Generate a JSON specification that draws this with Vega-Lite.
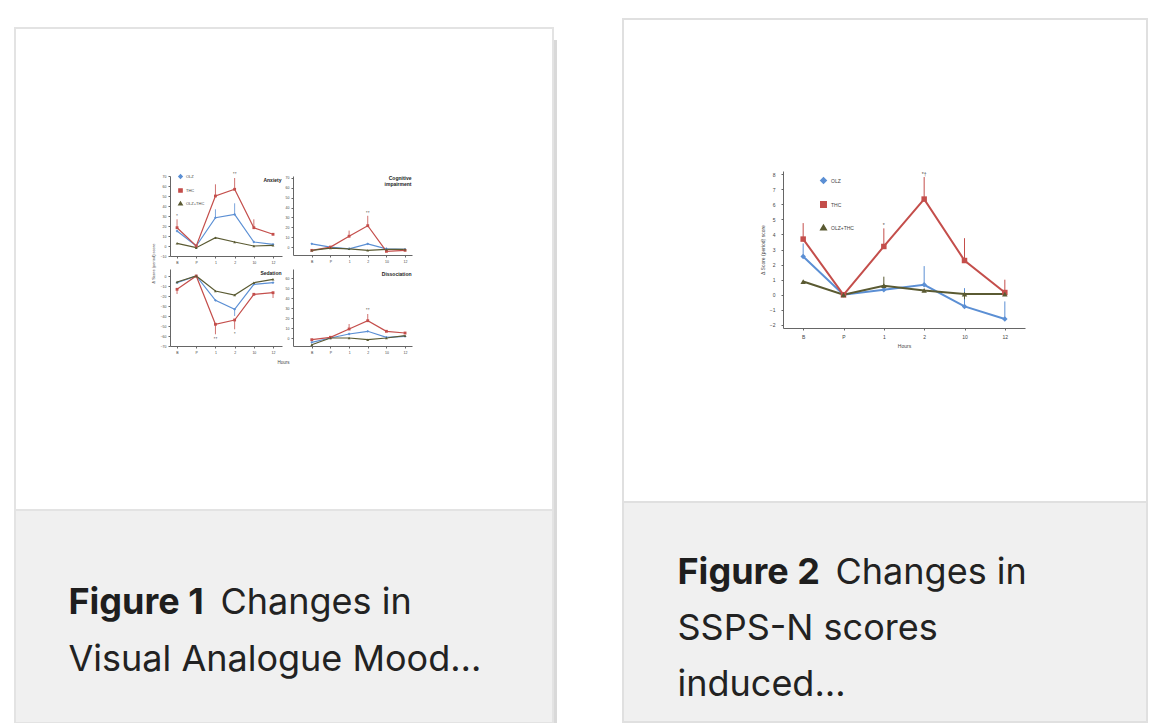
{
  "$schema": "https://vega.github.io/schema/vega-lite/v6.json",
  "background": "white",
  "padding": {"left": 14, "top": 18, "right": 0, "bottom": 0},
  "spacing": 0,
  "resolve": {"scale": {"color": "independent", "shape": "independent"}, "legend": {"color": "independent", "shape": "independent"}},
  "config": {
    "view": {"stroke": null},
    "font": "Inter",
    "axis": {"labelFont": "Liberation Sans", "labelFontSize": 5, "labelColor": "#444", "domainColor": "#666", "tickColor": "#666", "tickSize": 2, "grid": false, "titleFont": "Liberation Sans", "titleFontSize": 5, "titleFontWeight": "normal", "titleColor": "#444", "labelPadding": 2, "labelAngle": 0},
    "legend": {"labelFont": "Liberation Sans", "labelColor": "#444"}
  },
  "datasets": {
    "fig1": [
      {"panel": "Anxiety", "hour": "B", "group": "OLZ", "value": 15},
      {"panel": "Anxiety", "hour": "P", "group": "OLZ", "value": 0},
      {"panel": "Anxiety", "hour": "1", "group": "OLZ", "value": 28.3, "err": 36.7},
      {"panel": "Anxiety", "hour": "2", "group": "OLZ", "value": 31.7, "err": 42.7},
      {"panel": "Anxiety", "hour": "10", "group": "OLZ", "value": 4},
      {"panel": "Anxiety", "hour": "12", "group": "OLZ", "value": 1.7},
      {"panel": "Anxiety", "hour": "B", "group": "THC", "value": 18.3, "err": 26.7, "note": "*", "noteY": 30},
      {"panel": "Anxiety", "hour": "P", "group": "THC", "value": 0},
      {"panel": "Anxiety", "hour": "1", "group": "THC", "value": 50, "err": 61.7},
      {"panel": "Anxiety", "hour": "2", "group": "THC", "value": 56.7, "err": 68, "note": "*†", "noteY": 72},
      {"panel": "Anxiety", "hour": "10", "group": "THC", "value": 18.3, "err": 26.7},
      {"panel": "Anxiety", "hour": "12", "group": "THC", "value": 11.7},
      {"panel": "Anxiety", "hour": "B", "group": "OLZ+THC", "value": 2.7},
      {"panel": "Anxiety", "hour": "P", "group": "OLZ+THC", "value": -1.7},
      {"panel": "Anxiety", "hour": "1", "group": "OLZ+THC", "value": 8.3},
      {"panel": "Anxiety", "hour": "2", "group": "OLZ+THC", "value": 4},
      {"panel": "Anxiety", "hour": "10", "group": "OLZ+THC", "value": 0},
      {"panel": "Anxiety", "hour": "12", "group": "OLZ+THC", "value": 0.7},

      {"panel": "Cognitive", "hour": "B", "group": "OLZ", "value": 3.3},
      {"panel": "Cognitive", "hour": "P", "group": "OLZ", "value": 0},
      {"panel": "Cognitive", "hour": "1", "group": "OLZ", "value": -1.7},
      {"panel": "Cognitive", "hour": "2", "group": "OLZ", "value": 3.3},
      {"panel": "Cognitive", "hour": "10", "group": "OLZ", "value": -1.7},
      {"panel": "Cognitive", "hour": "12", "group": "OLZ", "value": -2.3},
      {"panel": "Cognitive", "hour": "B", "group": "THC", "value": -3.3},
      {"panel": "Cognitive", "hour": "P", "group": "THC", "value": 0},
      {"panel": "Cognitive", "hour": "1", "group": "THC", "value": 11, "err": 16.7},
      {"panel": "Cognitive", "hour": "2", "group": "THC", "value": 21.7, "err": 31.7, "note": "*†", "noteY": 35},
      {"panel": "Cognitive", "hour": "10", "group": "THC", "value": -4.3},
      {"panel": "Cognitive", "hour": "12", "group": "THC", "value": -3.3},
      {"panel": "Cognitive", "hour": "B", "group": "OLZ+THC", "value": -3.3},
      {"panel": "Cognitive", "hour": "P", "group": "OLZ+THC", "value": -1},
      {"panel": "Cognitive", "hour": "1", "group": "OLZ+THC", "value": -1.7},
      {"panel": "Cognitive", "hour": "2", "group": "OLZ+THC", "value": -3.3},
      {"panel": "Cognitive", "hour": "10", "group": "OLZ+THC", "value": -2.3},
      {"panel": "Cognitive", "hour": "12", "group": "OLZ+THC", "value": -2.3},

      {"panel": "Sedation", "hour": "B", "group": "OLZ", "value": -6.7},
      {"panel": "Sedation", "hour": "P", "group": "OLZ", "value": 0},
      {"panel": "Sedation", "hour": "1", "group": "OLZ", "value": -24.3},
      {"panel": "Sedation", "hour": "2", "group": "OLZ", "value": -33.3, "err": -40},
      {"panel": "Sedation", "hour": "10", "group": "OLZ", "value": -8.3},
      {"panel": "Sedation", "hour": "12", "group": "OLZ", "value": -6.7},
      {"panel": "Sedation", "hour": "B", "group": "THC", "value": -13.3, "err": -18},
      {"panel": "Sedation", "hour": "P", "group": "THC", "value": 0},
      {"panel": "Sedation", "hour": "1", "group": "THC", "value": -48.3, "err": -58.3, "note": "*†", "noteY": -63},
      {"panel": "Sedation", "hour": "2", "group": "THC", "value": -44, "err": -53.3, "note": "*", "noteY": -58},
      {"panel": "Sedation", "hour": "10", "group": "THC", "value": -18.3},
      {"panel": "Sedation", "hour": "12", "group": "THC", "value": -16.7, "err": -22},
      {"panel": "Sedation", "hour": "B", "group": "OLZ+THC", "value": -6},
      {"panel": "Sedation", "hour": "P", "group": "OLZ+THC", "value": 0},
      {"panel": "Sedation", "hour": "1", "group": "OLZ+THC", "value": -15},
      {"panel": "Sedation", "hour": "2", "group": "OLZ+THC", "value": -19},
      {"panel": "Sedation", "hour": "10", "group": "OLZ+THC", "value": -6.7},
      {"panel": "Sedation", "hour": "12", "group": "OLZ+THC", "value": -3.3},

      {"panel": "Dissociation", "hour": "B", "group": "OLZ", "value": -4.3},
      {"panel": "Dissociation", "hour": "P", "group": "OLZ", "value": 0},
      {"panel": "Dissociation", "hour": "1", "group": "OLZ", "value": 4},
      {"panel": "Dissociation", "hour": "2", "group": "OLZ", "value": 6.7},
      {"panel": "Dissociation", "hour": "10", "group": "OLZ", "value": 0.7},
      {"panel": "Dissociation", "hour": "12", "group": "OLZ", "value": 1.7},
      {"panel": "Dissociation", "hour": "B", "group": "THC", "value": -1.7},
      {"panel": "Dissociation", "hour": "P", "group": "THC", "value": 0.7},
      {"panel": "Dissociation", "hour": "1", "group": "THC", "value": 9, "err": 14},
      {"panel": "Dissociation", "hour": "2", "group": "THC", "value": 17.3, "err": 24, "note": "*†", "noteY": 28},
      {"panel": "Dissociation", "hour": "10", "group": "THC", "value": 6.7},
      {"panel": "Dissociation", "hour": "12", "group": "THC", "value": 5},
      {"panel": "Dissociation", "hour": "B", "group": "OLZ+THC", "value": -6.7},
      {"panel": "Dissociation", "hour": "P", "group": "OLZ+THC", "value": 0},
      {"panel": "Dissociation", "hour": "1", "group": "OLZ+THC", "value": 0},
      {"panel": "Dissociation", "hour": "2", "group": "OLZ+THC", "value": -1.7},
      {"panel": "Dissociation", "hour": "10", "group": "OLZ+THC", "value": 0},
      {"panel": "Dissociation", "hour": "12", "group": "OLZ+THC", "value": 2.3}
    ],
    "fig2": [
      {"hour": "B", "group": "OLZ", "value": 2.54, "err": 3.4},
      {"hour": "P", "group": "OLZ", "value": 0},
      {"hour": "1", "group": "OLZ", "value": 0.33},
      {"hour": "2", "group": "OLZ", "value": 0.66, "err": 1.9},
      {"hour": "10", "group": "OLZ", "value": -0.77, "err": 0.44},
      {"hour": "12", "group": "OLZ", "value": -1.6, "err": -0.44},
      {"hour": "B", "group": "THC", "value": 3.69, "err": 4.75},
      {"hour": "P", "group": "THC", "value": 0},
      {"hour": "1", "group": "THC", "value": 3.2, "err": 4.4, "note": "*", "noteY": 4.6},
      {"hour": "2", "group": "THC", "value": 6.34, "err": 7.8, "note": "*†", "noteY": 8.0},
      {"hour": "10", "group": "THC", "value": 2.27, "err": 3.75},
      {"hour": "12", "group": "THC", "value": 0.15, "err": 1.0},
      {"hour": "B", "group": "OLZ+THC", "value": 0.88},
      {"hour": "P", "group": "OLZ+THC", "value": 0},
      {"hour": "1", "group": "OLZ+THC", "value": 0.6, "err": 1.2},
      {"hour": "2", "group": "OLZ+THC", "value": 0.29},
      {"hour": "10", "group": "OLZ+THC", "value": 0.05, "err": -0.3},
      {"hour": "12", "group": "OLZ+THC", "value": 0.05}
    ],
    "cap1": [
      {"line": 1, "kind": "label", "text": "Figure 1"},
      {"line": 1, "kind": "rest", "text": "Changes in"},
      {"line": 2, "kind": "body", "text": "Visual Analogue Mood…"}
    ],
    "cap2": [
      {"line": 1, "kind": "label", "text": "Figure 2"},
      {"line": 1, "kind": "rest", "text": "Changes in"},
      {"line": 2, "kind": "body", "text": "SSPS-N scores"},
      {"line": 3, "kind": "body", "text": "induced…"}
    ]
  },
  "hconcat": [
    {
      "vconcat": [
        {"width": 538, "height": 9, "data": {"values": []}, "mark": "point"},
        {
          "width": 538, "height": 482,
          "view": {"fill": "white", "stroke": "#e3e3e3", "strokeWidth": 2},
          "data": {"name": "fig1"},
          "resolve": {"scale": {"x": "independent", "y": "independent"}},
          "layer": [
            {
              "transform": [{"filter": "datum.panel === 'Anxiety'"}],
              "encoding": {
                "x": {"field": "hour", "type": "ordinal", "scale": {"type": "point", "domain": ["B", "P", "1", "2", "10", "12"], "range": [155, 267], "padding": 0.417, "align": 0.44}, "axis": {"orient": "bottom", "offset": -254, "labelFontSize": 3.5, "title": "Anxiety", "titleFontSize": 5, "titleFontWeight": "bold", "titleColor": "#222", "titleAngle": 0, "titleAlign": "right", "titleBaseline": "top", "titleX": 266, "titleY": -79}},
                "y": {"field": "value", "type": "quantitative", "scale": {"domain": [-10, 70], "range": [228, 148], "nice": false, "zero": false}, "axis": {"orient": "left", "offset": -155, "labelFontSize": 3.5, "tickCount": 8, "title": "Δ Score (period) score", "titleFontSize": 4, "titleX": -15, "titleY": 235, "titleAngle": -90}}
              },
              "layer": [
                {"transform": [{"filter": "isValid(datum.err)"}], "mark": {"type": "rule", "strokeWidth": 0.8}, "encoding": {"y2": {"field": "err"}, "color": {"field": "group", "type": "nominal", "scale": {"domain": ["OLZ", "THC", "OLZ+THC"], "range": ["#5b8fd4", "#c44e4b", "#5a5a32"]}, "legend": {"orient": "none", "legendX": 163, "legendY": 155, "title": null, "labelFontSize": 4, "symbolSize": 10, "rowPadding": 3, "labelOffset": 3, "padding": 0}}}},
                {"mark": {"type": "line", "strokeWidth": 1.2}, "encoding": {"color": {"field": "group", "type": "nominal", "legend": {"orient": "none", "legendX": 163, "legendY": 155, "title": null, "labelFontSize": 4, "symbolSize": 10, "rowPadding": 3, "labelOffset": 3, "padding": 0}}}},
                {"mark": {"type": "point", "filled": true, "size": 8, "opacity": 1}, "encoding": {"color": {"field": "group", "type": "nominal", "legend": {"orient": "none", "legendX": 163, "legendY": 155, "title": null, "labelFontSize": 4, "symbolSize": 10, "rowPadding": 3, "labelOffset": 3, "padding": 0}}, "shape": {"field": "group", "type": "nominal", "scale": {"domain": ["OLZ", "THC", "OLZ+THC"], "range": ["diamond", "square", "triangle-up"]}, "legend": {"orient": "none", "legendX": 163, "legendY": 155, "title": null, "labelFontSize": 4, "symbolSize": 10, "rowPadding": 3, "labelOffset": 3, "padding": 0}}}},
                {"transform": [{"filter": "isValid(datum.note)"}], "mark": {"type": "text", "fontSize": 4, "color": "#444"}, "encoding": {"y": {"field": "noteY", "type": "quantitative"}, "text": {"field": "note"}}}
              ]
            },
            {
              "transform": [{"filter": "datum.panel === 'Cognitive'"}],
              "encoding": {
                "x": {"field": "hour", "type": "ordinal", "scale": {"type": "point", "domain": ["B", "P", "1", "2", "10", "12"], "range": [278, 397], "padding": 0.69, "align": 0.73}, "axis": {"orient": "bottom", "offset": -255, "labelFontSize": 3.5, "title": ["Cognitive", "impairment"], "titleFontSize": 5, "titleFontWeight": "bold", "titleColor": "#222", "titleAngle": 0, "titleAlign": "right", "titleBaseline": "top", "titleLineHeight": 6, "titleX": 396, "titleY": -80}},
                "y": {"field": "value", "type": "quantitative", "scale": {"domain": [-8, 72], "range": [227, 148], "nice": false, "zero": false}, "axis": {"orient": "left", "offset": -278, "title": null, "labelFontSize": 3.5, "tickCount": 8}}
              },
              "layer": [
                {"transform": [{"filter": "isValid(datum.err)"}], "mark": {"type": "rule", "strokeWidth": 0.8}, "encoding": {"y2": {"field": "err"}, "color": {"field": "group", "type": "nominal", "legend": {"orient": "none", "legendX": 163, "legendY": 155, "title": null, "labelFontSize": 4, "symbolSize": 10, "rowPadding": 3, "labelOffset": 3, "padding": 0}}}},
                {"mark": {"type": "line", "strokeWidth": 1.2}, "encoding": {"color": {"field": "group", "type": "nominal", "legend": {"orient": "none", "legendX": 163, "legendY": 155, "title": null, "labelFontSize": 4, "symbolSize": 10, "rowPadding": 3, "labelOffset": 3, "padding": 0}}}},
                {"mark": {"type": "point", "filled": true, "size": 8, "opacity": 1}, "encoding": {"color": {"field": "group", "type": "nominal", "legend": {"orient": "none", "legendX": 163, "legendY": 155, "title": null, "labelFontSize": 4, "symbolSize": 10, "rowPadding": 3, "labelOffset": 3, "padding": 0}}, "shape": {"field": "group", "type": "nominal", "legend": {"orient": "none", "legendX": 163, "legendY": 155, "title": null, "labelFontSize": 4, "symbolSize": 10, "rowPadding": 3, "labelOffset": 3, "padding": 0}}}},
                {"transform": [{"filter": "isValid(datum.note)"}], "mark": {"type": "text", "fontSize": 4, "color": "#444"}, "encoding": {"y": {"field": "noteY", "type": "quantitative"}, "text": {"field": "note"}}}
              ]
            },
            {
              "transform": [{"filter": "datum.panel === 'Sedation'"}],
              "encoding": {
                "x": {"field": "hour", "type": "ordinal", "scale": {"type": "point", "domain": ["B", "P", "1", "2", "10", "12"], "range": [155, 267], "padding": 0.417, "align": 0.44}, "axis": {"orient": "bottom", "offset": -164, "labelFontSize": 3.5, "title": "Sedation", "titleFontSize": 5, "titleFontWeight": "bold", "titleColor": "#222", "titleAngle": 0, "titleAlign": "right", "titleBaseline": "top", "titleX": 266, "titleY": -76}},
                "y": {"field": "value", "type": "quantitative", "scale": {"domain": [-70, 7], "range": [318, 241], "nice": false, "zero": false}, "axis": {"orient": "left", "offset": -155, "title": null, "labelFontSize": 3.5, "tickCount": 8}}
              },
              "layer": [
                {"transform": [{"filter": "isValid(datum.err)"}], "mark": {"type": "rule", "strokeWidth": 0.8}, "encoding": {"y2": {"field": "err"}, "color": {"field": "group", "type": "nominal", "legend": {"orient": "none", "legendX": 163, "legendY": 155, "title": null, "labelFontSize": 4, "symbolSize": 10, "rowPadding": 3, "labelOffset": 3, "padding": 0}}}},
                {"mark": {"type": "line", "strokeWidth": 1.2}, "encoding": {"color": {"field": "group", "type": "nominal", "legend": {"orient": "none", "legendX": 163, "legendY": 155, "title": null, "labelFontSize": 4, "symbolSize": 10, "rowPadding": 3, "labelOffset": 3, "padding": 0}}}},
                {"mark": {"type": "point", "filled": true, "size": 8, "opacity": 1}, "encoding": {"color": {"field": "group", "type": "nominal", "legend": {"orient": "none", "legendX": 163, "legendY": 155, "title": null, "labelFontSize": 4, "symbolSize": 10, "rowPadding": 3, "labelOffset": 3, "padding": 0}}, "shape": {"field": "group", "type": "nominal", "legend": {"orient": "none", "legendX": 163, "legendY": 155, "title": null, "labelFontSize": 4, "symbolSize": 10, "rowPadding": 3, "labelOffset": 3, "padding": 0}}}},
                {"transform": [{"filter": "isValid(datum.note)"}], "mark": {"type": "text", "fontSize": 4, "color": "#444"}, "encoding": {"y": {"field": "noteY", "type": "quantitative"}, "text": {"field": "note"}}}
              ]
            },
            {
              "transform": [{"filter": "datum.panel === 'Dissociation'"}],
              "encoding": {
                "x": {"field": "hour", "type": "ordinal", "scale": {"type": "point", "domain": ["B", "P", "1", "2", "10", "12"], "range": [278, 397], "padding": 0.69, "align": 0.73}, "axis": {"orient": "bottom", "offset": -164, "labelFontSize": 3.5, "title": "Hours", "titleFontSize": 4.5, "titleX": 268, "titleY": 13}},
                "y": {"field": "value", "type": "quantitative", "scale": {"domain": [-8, 69], "range": [318, 241], "nice": false, "zero": false}, "axis": {"orient": "left", "offset": -278, "labelFontSize": 3.5, "tickCount": 8, "title": "Dissociation", "titleFontSize": 5, "titleFontWeight": "bold", "titleColor": "#222", "titleAngle": 0, "titleAlign": "right", "titleBaseline": "top", "titleX": 118, "titleY": 243}}
              },
              "layer": [
                {"transform": [{"filter": "isValid(datum.err)"}], "mark": {"type": "rule", "strokeWidth": 0.8}, "encoding": {"y2": {"field": "err"}, "color": {"field": "group", "type": "nominal", "legend": {"orient": "none", "legendX": 163, "legendY": 155, "title": null, "labelFontSize": 4, "symbolSize": 10, "rowPadding": 3, "labelOffset": 3, "padding": 0}}}},
                {"mark": {"type": "line", "strokeWidth": 1.2}, "encoding": {"color": {"field": "group", "type": "nominal", "legend": {"orient": "none", "legendX": 163, "legendY": 155, "title": null, "labelFontSize": 4, "symbolSize": 10, "rowPadding": 3, "labelOffset": 3, "padding": 0}}}},
                {"mark": {"type": "point", "filled": true, "size": 8, "opacity": 1}, "encoding": {"color": {"field": "group", "type": "nominal", "legend": {"orient": "none", "legendX": 163, "legendY": 155, "title": null, "labelFontSize": 4, "symbolSize": 10, "rowPadding": 3, "labelOffset": 3, "padding": 0}}, "shape": {"field": "group", "type": "nominal", "legend": {"orient": "none", "legendX": 163, "legendY": 155, "title": null, "labelFontSize": 4, "symbolSize": 10, "rowPadding": 3, "labelOffset": 3, "padding": 0}}}},
                {"transform": [{"filter": "isValid(datum.note)"}], "mark": {"type": "text", "fontSize": 4, "color": "#444"}, "encoding": {"y": {"field": "noteY", "type": "quantitative"}, "text": {"field": "note"}}}
              ]
            }
          ]
        },
        {
          "width": 538, "height": 213,
          "view": {"fill": "#f0f0f0", "stroke": "#e3e3e3", "strokeWidth": 2},
          "data": {"name": "cap1"},
          "encoding": {
            "x": {"datum": 9.94, "type": "quantitative", "scale": {"domain": [0, 100], "nice": false, "zero": false}, "axis": null},
            "y": {"field": "line", "type": "quantitative", "scale": {"domain": [-0.8246, 2.9123], "reverse": true, "nice": false, "zero": false}, "axis": null},
            "text": {"field": "text"}
          },
          "layer": [
            {"transform": [{"filter": "datum.kind === 'label'"}], "mark": {"type": "text", "align": "left", "baseline": "alphabetic", "font": "Inter", "fontSize": 36, "fontWeight": "bold", "color": "#1e1e1e"}},
            {"transform": [{"filter": "datum.kind === 'rest'"}], "mark": {"type": "text", "align": "left", "baseline": "alphabetic", "font": "Inter", "fontSize": 36, "color": "#222", "dx": 152}},
            {"transform": [{"filter": "datum.kind === 'body'"}], "mark": {"type": "text", "align": "left", "baseline": "alphabetic", "font": "Inter", "fontSize": 36, "color": "#222"}}
          ]
        }
      ],
      "spacing": 0,
      "bounds": "flush"
    },
    {
      "vconcat": [
        {"width": 3, "height": 21, "data": {"values": []}, "mark": "point"},
        {"width": 3, "height": 683, "view": {"fill": "#d9d9d9", "stroke": null}, "data": {"values": []}, "mark": "point"}
      ],
      "spacing": 0,
      "bounds": "flush"
    },
    {"width": 65, "height": 10, "data": {"values": []}, "mark": "point"},
    {
      "vconcat": [
        {
          "width": 524, "height": 483,
          "view": {"fill": "white", "stroke": "#e0e0e0", "strokeWidth": 2},
          "data": {"name": "fig2"},
          "encoding": {
            "x": {"field": "hour", "type": "ordinal", "scale": {"type": "point", "domain": ["B", "P", "1", "2", "10", "12"], "range": [160, 402], "padding": 0.5}, "axis": {"orient": "bottom", "offset": -174, "title": "Hours", "labelPadding": 4, "titlePadding": 4}},
            "y": {"field": "value", "type": "quantitative", "scale": {"domain": [-2.2, 8.2], "range": [309, 152], "nice": false, "zero": false}, "axis": {"orient": "left", "offset": -160, "values": [-2, -1, 0, 1, 2, 3, 4, 5, 6, 7, 8], "title": "Δ Score (period) score", "labelPadding": 6, "titlePadding": 4}}
          },
          "layer": [
            {"transform": [{"filter": "isValid(datum.err)"}], "mark": {"type": "rule", "strokeWidth": 1}, "encoding": {"y2": {"field": "err"}, "color": {"field": "group", "type": "nominal", "scale": {"domain": ["OLZ", "THC", "OLZ+THC"], "range": ["#5b8fd4", "#c44e4b", "#5a5a32"]}, "legend": {"orient": "none", "legendX": 197, "legendY": 158, "title": null, "labelFontSize": 5, "symbolSize": 30, "rowPadding": 11, "labelOffset": 4, "padding": 0}}}},
            {"mark": {"type": "line", "strokeWidth": 2}, "encoding": {"color": {"field": "group", "type": "nominal", "legend": {"orient": "none", "legendX": 197, "legendY": 158, "title": null, "labelFontSize": 5, "symbolSize": 30, "rowPadding": 11, "labelOffset": 4, "padding": 0}}}},
            {"mark": {"type": "point", "filled": true, "size": 30, "opacity": 1}, "encoding": {"color": {"field": "group", "type": "nominal", "legend": {"orient": "none", "legendX": 197, "legendY": 158, "title": null, "labelFontSize": 5, "symbolSize": 30, "rowPadding": 11, "labelOffset": 4, "padding": 0}}, "shape": {"field": "group", "type": "nominal", "scale": {"domain": ["OLZ", "THC", "OLZ+THC"], "range": ["diamond", "square", "triangle-up"]}, "legend": {"orient": "none", "legendX": 197, "legendY": 158, "title": null, "labelFontSize": 5, "symbolSize": 30, "rowPadding": 11, "labelOffset": 4, "padding": 0}}}},
            {"transform": [{"filter": "isValid(datum.note)"}], "mark": {"type": "text", "fontSize": 5, "color": "#444", "font": "Liberation Sans"}, "encoding": {"y": {"field": "noteY", "type": "quantitative"}, "text": {"field": "note"}}}
          ]
        },
        {
          "width": 524, "height": 220,
          "view": {"fill": "#f0f0f0", "stroke": "#e0e0e0", "strokeWidth": 2},
          "data": {"name": "cap2"},
          "encoding": {
            "x": {"datum": 10.4, "type": "quantitative", "scale": {"domain": [0, 100], "nice": false, "zero": false}, "axis": null},
            "y": {"field": "line", "type": "quantitative", "scale": {"domain": [-0.4749, 3.4678], "reverse": true, "nice": false, "zero": false}, "axis": null},
            "text": {"field": "text"}
          },
          "layer": [
            {"transform": [{"filter": "datum.kind === 'label'"}], "mark": {"type": "text", "align": "left", "baseline": "alphabetic", "font": "Inter", "fontSize": 36, "fontWeight": "bold", "color": "#1e1e1e"}},
            {"transform": [{"filter": "datum.kind === 'rest'"}], "mark": {"type": "text", "align": "left", "baseline": "alphabetic", "font": "Inter", "fontSize": 36, "color": "#222", "dx": 158}},
            {"transform": [{"filter": "datum.kind === 'body'"}], "mark": {"type": "text", "align": "left", "baseline": "alphabetic", "font": "Inter", "fontSize": 36, "color": "#222"}}
          ]
        }
      ],
      "spacing": 0,
      "bounds": "flush"
    }
  ]
}
